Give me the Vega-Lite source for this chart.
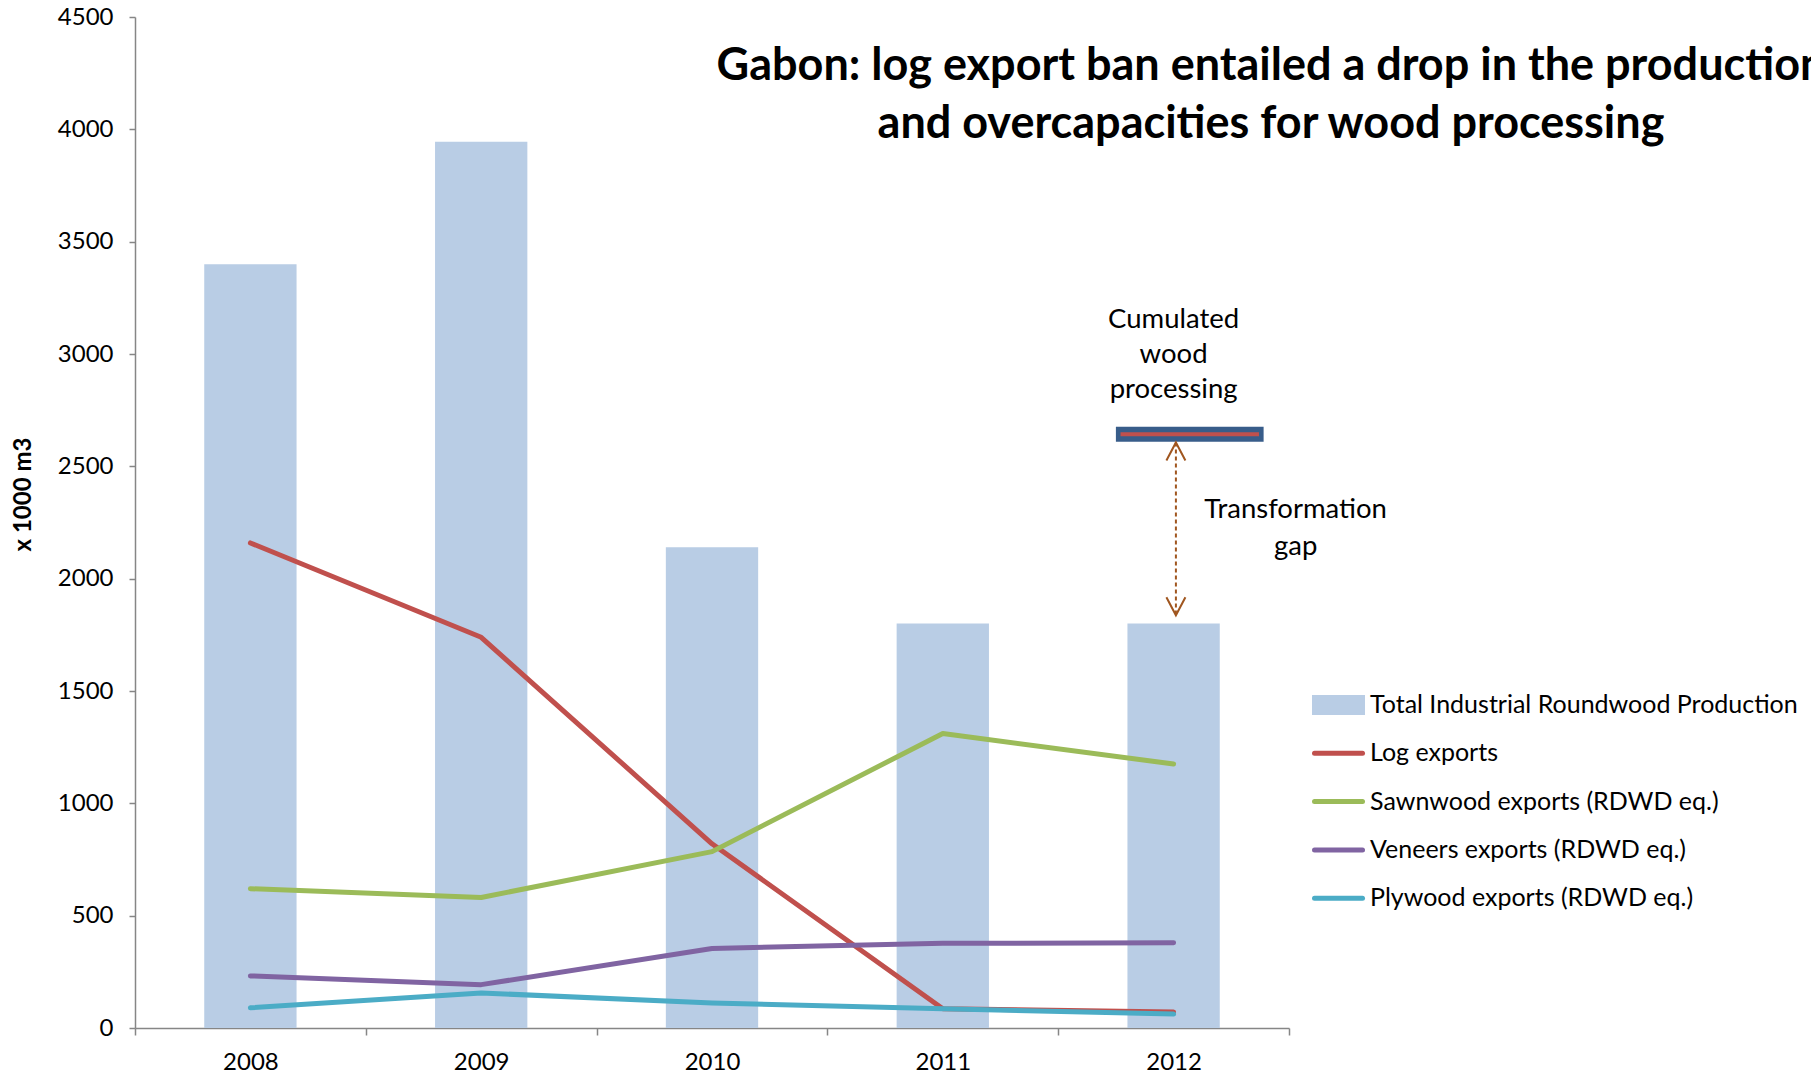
{
  "$schema": "https://vega.github.io/schema/vega-lite/v6.json",
  "autosize": {"type": "none"},
  "width": 1154,
  "height": 1011,
  "padding": {"left": 135, "top": 17, "right": 522, "bottom": 49},
  "background": "white",
  "config": {"view": {"stroke": null}, "font": "Lato"},
  "title": {
    "text": ["Gabon: log export ban entailed a drop in the production", "and overcapacities for wood processing"],
    "anchor": "middle",
    "frame": "group",
    "orient": "top",
    "offset": 0,
    "dx": 559,
    "dy": 178,
    "font": "Lato",
    "fontSize": 45,
    "fontWeight": "bold",
    "lineHeight": 58,
    "baseline": "alphabetic",
    "color": "black"
  },
  "datasets": {
    "main": [
      {"year": "2008", "series": "Total Industrial Roundwood Production", "value": 3400},
      {"year": "2009", "series": "Total Industrial Roundwood Production", "value": 3945},
      {"year": "2010", "series": "Total Industrial Roundwood Production", "value": 2140},
      {"year": "2011", "series": "Total Industrial Roundwood Production", "value": 1800},
      {"year": "2012", "series": "Total Industrial Roundwood Production", "value": 1800},
      {"year": "2008", "series": "Log exports", "value": 2159},
      {"year": "2009", "series": "Log exports", "value": 1739},
      {"year": "2010", "series": "Log exports", "value": 820},
      {"year": "2011", "series": "Log exports", "value": 86},
      {"year": "2012", "series": "Log exports", "value": 71},
      {"year": "2008", "series": "Sawnwood exports (RDWD eq.)", "value": 620},
      {"year": "2009", "series": "Sawnwood exports (RDWD eq.)", "value": 581},
      {"year": "2010", "series": "Sawnwood exports (RDWD eq.)", "value": 785},
      {"year": "2011", "series": "Sawnwood exports (RDWD eq.)", "value": 1311},
      {"year": "2012", "series": "Sawnwood exports (RDWD eq.)", "value": 1175},
      {"year": "2008", "series": "Veneers exports (RDWD eq.)", "value": 232},
      {"year": "2009", "series": "Veneers exports (RDWD eq.)", "value": 193},
      {"year": "2010", "series": "Veneers exports (RDWD eq.)", "value": 354},
      {"year": "2011", "series": "Veneers exports (RDWD eq.)", "value": 377},
      {"year": "2012", "series": "Veneers exports (RDWD eq.)", "value": 379},
      {"year": "2008", "series": "Plywood exports (RDWD eq.)", "value": 90},
      {"year": "2009", "series": "Plywood exports (RDWD eq.)", "value": 156},
      {"year": "2010", "series": "Plywood exports (RDWD eq.)", "value": 111},
      {"year": "2011", "series": "Plywood exports (RDWD eq.)", "value": 86},
      {"year": "2012", "series": "Plywood exports (RDWD eq.)", "value": 62}
    ],
    "cumlabel": [
      {"year": "2012", "text": "Cumulated", "v": 3151},
      {"year": "2012", "text": "wood", "v": 2995},
      {"year": "2012", "text": "processing", "v": 2840}
    ],
    "gaplabel": [
      {"year": "2012", "text": "Transformation", "v": 2305},
      {"year": "2012", "text": "gap", "v": 2142}
    ],
    "box": [{"year": "2012", "v": 2643}],
    "arrow": [{"year": "2012", "top": 2606, "bottom": 1837}]
  },
  "encoding": {
    "x": {
      "field": "year",
      "type": "nominal",
      "scale": {"type": "band", "paddingInner": 0, "paddingOuter": 0, "domain": ["2008", "2009", "2010", "2011", "2012"]},
      "axis": {
        "title": null,
        "labelAngle": 0,
        "tickBand": "extent",
        "tickSize": 7,
        "tickColor": "#868686",
        "domainColor": "#868686",
        "domainWidth": 1.5,
        "tickWidth": 1.5,
        "labelPadding": 15,
        "labelFontSize": 24,
        "labelFont": "Lato",
        "labelColor": "black"
      }
    }
  },
  "layer": [
    {
      "data": {"name": "main"},
      "transform": [{"filter": "datum.series === 'Total Industrial Roundwood Production'"}],
      "mark": {"type": "bar", "width": {"band": 0.4}},
      "encoding": {
        "y": {
          "field": "value",
          "type": "quantitative",
          "scale": {"domain": [0, 4500], "nice": false},
          "axis": {
            "title": "x 1000 m3",
            "titleFont": "Lato",
            "titleFontWeight": "bold",
            "titleFontSize": 24,
            "titleColor": "black",
            "titleX": -112,
            "titleY": 477,
            "titleBaseline": "middle",
            "titleAlign": "center",
            "values": [0, 500, 1000, 1500, 2000, 2500, 3000, 3500, 4000, 4500],
            "format": "d",
            "grid": false,
            "tickSize": 6,
            "tickColor": "#868686",
            "tickWidth": 1.5,
            "domainColor": "#868686",
            "domainWidth": 1.5,
            "labelPadding": 16,
            "labelFontSize": 24,
            "labelFont": "Lato",
            "labelColor": "black"
          }
        },
        "color": {
          "field": "series",
          "type": "nominal",
          "scale": {
            "domain": ["Total Industrial Roundwood Production", "Log exports", "Sawnwood exports (RDWD eq.)", "Veneers exports (RDWD eq.)", "Plywood exports (RDWD eq.)"],
            "range": ["#B9CDE5", "#C0504D", "#9BBB59", "#8064A2", "#4BACC6"]
          },
          "legend": {
            "title": null,
            "orient": "none",
            "legendX": 1177,
            "legendY": 664,
            "padding": 0,
            "symbolSize": 2304,
            "symbolStrokeWidth": 5,
            "clipHeight": 48,
            "rowPadding": 0.3,
            "labelOffset": 5,
            "labelFont": "Lato",
            "labelFontSize": 25,
            "labelColor": "black",
            "labelLimit": 700,
            "encode": {
              "symbols": {
                "update": {
                  "shape": {"signal": "datum.value === 'Total Industrial Roundwood Production' ? 'M-1,-0.31H1V0.31H-1Z' : 'stroke'"},
                  "fill": {"signal": "datum.value === 'Total Industrial Roundwood Production' ? '#B9CDE5' : 'transparent'"},
                  "stroke": {"signal": "datum.value === 'Total Industrial Roundwood Production' ? 'transparent' : scale('color', datum.value)"},
                  "strokeWidth": {"value": 5},
                  "strokeCap": {"value": "round"},
                  "opacity": {"value": 1}
                }
              }
            }
          }
        }
      }
    },
    {
      "data": {"name": "main"},
      "transform": [{"filter": "datum.series !== 'Total Industrial Roundwood Production'"}],
      "mark": {"type": "line", "strokeWidth": 5, "strokeCap": "round", "strokeJoin": "round"},
      "encoding": {
        "y": {"field": "value", "type": "quantitative"},
        "color": {"field": "series", "type": "nominal"}
      }
    },
    {
      "data": {"name": "box"},
      "mark": {"type": "rule", "color": "#385D8A", "strokeWidth": 15, "strokeCap": "butt"},
      "encoding": {
        "x": {"field": "year", "type": "nominal", "bandPosition": 0.25},
        "x2": {"field": "year", "bandPosition": 0.89},
        "y": {"field": "v", "type": "quantitative"}
      }
    },
    {
      "data": {"name": "box"},
      "mark": {"type": "rule", "color": "#C0504D", "strokeWidth": 4, "strokeCap": "butt"},
      "encoding": {
        "x": {"field": "year", "type": "nominal", "bandPosition": 0.27},
        "x2": {"field": "year", "bandPosition": 0.87},
        "y": {"field": "v", "type": "quantitative"}
      }
    },
    {
      "data": {"name": "arrow"},
      "mark": {"type": "rule", "color": "#A0561F", "strokeWidth": 2, "strokeDash": [4, 3]},
      "encoding": {
        "x": {"field": "year", "type": "nominal", "bandPosition": 0.51},
        "y": {"field": "top", "type": "quantitative"},
        "y2": {"field": "bottom"}
      }
    },
    {
      "data": {"name": "arrow"},
      "mark": {"type": "point", "shape": "M-1,1.9L0,0L1,1.9", "size": 361, "filled": false, "stroke": "#A0561F", "strokeWidth": 2, "opacity": 1},
      "encoding": {
        "x": {"field": "year", "type": "nominal", "bandPosition": 0.51},
        "y": {"field": "top", "type": "quantitative"}
      }
    },
    {
      "data": {"name": "arrow"},
      "mark": {"type": "point", "shape": "M-1,-1.9L0,0L1,-1.9", "size": 361, "filled": false, "stroke": "#A0561F", "strokeWidth": 2, "opacity": 1},
      "encoding": {
        "x": {"field": "year", "type": "nominal", "bandPosition": 0.51},
        "y": {"field": "bottom", "type": "quantitative"}
      }
    },
    {
      "data": {"name": "cumlabel"},
      "mark": {"type": "text", "font": "Lato", "fontSize": 27.5, "color": "black", "align": "center", "baseline": "middle"},
      "encoding": {
        "x": {"field": "year", "type": "nominal", "bandPosition": 0.5},
        "y": {"field": "v", "type": "quantitative"},
        "text": {"field": "text"}
      }
    },
    {
      "data": {"name": "gaplabel"},
      "mark": {"type": "text", "font": "Lato", "fontSize": 27.5, "color": "black", "align": "center", "baseline": "middle", "dx": 122},
      "encoding": {
        "x": {"field": "year", "type": "nominal", "bandPosition": 0.5},
        "y": {"field": "v", "type": "quantitative"},
        "text": {"field": "text"}
      }
    }
  ]
}
